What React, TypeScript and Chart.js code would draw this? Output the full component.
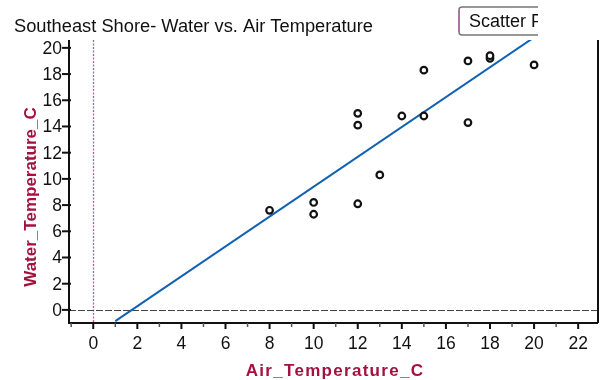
import React, { useEffect, useRef } from "react";
import Chart from "chart.js/auto";

const airTemp = [8, 10, 10, 12, 12, 12, 13, 14, 15, 15, 17, 17, 18, 18, 20];
const waterTemp = [7.6, 8.2, 7.3, 15.0, 14.1, 8.1, 10.3, 14.8, 18.3, 14.8, 19.0, 14.3, 19.2, 19.4, 18.7];
const fitX = [1, 20.5];
const fitY = [-0.86, 21.37];
const xTicks = [-1, 0, 1, 2, 3, 4, 5, 6, 7, 8, 9, 10, 11, 12, 13, 14, 15, 16, 17, 18, 19, 20, 21, 22];
const yTicks = [0, 2, 4, 6, 8, 10, 12, 14, 16, 18, 20];

const TITLE = "Southeast Shore- Water vs. Air Temperature";
const X_TITLE = "Air_Temperature_C";
const Y_TITLE = "Water_Temperature_C";
const BUTTON = "Scatter P";
const CRIMSON = "#a3123e";
const FONT = "'Liberation Sans', Arial, sans-serif";

const decorPlugin = {
  id: "decor",
  beforeDatasetsDraw(chart: any) {
    const { ctx, chartArea: a, scales } = chart;
    const x0 = scales.x.getPixelForValue(0);
    const y0 = scales.y.getPixelForValue(0);
    ctx.save();
    ctx.lineWidth = 1.3;
    ctx.strokeStyle = "#b35f9c";
    ctx.setLineDash([2, 1.5]);
    ctx.beginPath();
    ctx.moveTo(Math.round(x0) + 0.5, a.top);
    ctx.lineTo(Math.round(x0) + 0.5, a.bottom);
    ctx.stroke();
    ctx.strokeStyle = "#444";
    ctx.lineWidth = 1.2;
    ctx.setLineDash([7, 2]);
    ctx.beginPath();
    ctx.moveTo(a.left, Math.round(y0) + 0.5);
    ctx.lineTo(a.right, Math.round(y0) + 0.5);
    ctx.stroke();
    ctx.restore();
  },
  afterDraw(chart: any) {
    const { ctx, chartArea: a, scales } = chart;
    ctx.save();
    ctx.setLineDash([]);
    // axes
    ctx.strokeStyle = "#111";
    ctx.lineWidth = 2;
    ctx.beginPath();
    ctx.moveTo(a.left, a.top);
    ctx.lineTo(a.left, a.bottom);
    ctx.lineTo(a.right, a.bottom);
    ctx.moveTo(a.right, a.top);
    ctx.lineTo(a.right, a.bottom);
    ctx.stroke();

    // x ticks
    ctx.fillStyle = "#111";
    ctx.font = `17.5px ${FONT}`;
    ctx.textAlign = "center";
    ctx.textBaseline = "alphabetic";
    xTicks.forEach((v) => {
      const px = scales.x.getPixelForValue(v);
      const major = v % 2 === 0;
      ctx.lineWidth = major ? 2 : 1.5;
      ctx.strokeStyle = major ? "#111" : "#555";
      ctx.beginPath();
      ctx.moveTo(px, a.bottom);
      ctx.lineTo(px, a.bottom + (major ? 6 : 4));
      ctx.stroke();
      if (major && v >= 0) ctx.fillText(String(v), px, a.bottom + 26);
    });

    // y ticks
    ctx.strokeStyle = "#111";
    ctx.textAlign = "right";
    ctx.textBaseline = "middle";
    yTicks.forEach((v) => {
      const py = scales.y.getPixelForValue(v);
      ctx.lineWidth = 2;
      ctx.beginPath();
      ctx.moveTo(a.left - 7, py);
      ctx.lineTo(a.left + 2, py);
      ctx.stroke();
      ctx.fillText(String(v), a.left - 7, py + 1);
    });

    // title
    ctx.textAlign = "left";
    ctx.textBaseline = "alphabetic";
    ctx.font = `18.3px ${FONT}`;
    ctx.fillText(TITLE, 14, 32);

    // axis titles
    ctx.fillStyle = CRIMSON;
    ctx.font = `bold 17px ${FONT}`;
    ctx.textAlign = "center";
    (ctx as any).letterSpacing = "1.3px";
    ctx.fillText(X_TITLE, 335, 376);
    (ctx as any).letterSpacing = "0px";
    ctx.save();
    ctx.translate(36, 197);
    ctx.rotate(-Math.PI / 2);
    ctx.fillText(Y_TITLE, 0, 0);
    ctx.restore();

    // button
    ctx.save();
    ctx.beginPath();
    ctx.rect(0, 0, 538, 380);
    ctx.clip();
    ctx.fillStyle = "#fff";
    ctx.strokeStyle = "#777";
    ctx.lineWidth = 1.5;
    const bx = 459, by = 7, bw = 100, bh = 28, r = 3;
    ctx.beginPath();
    ctx.moveTo(bx + r, by);
    ctx.lineTo(bx + bw, by);
    ctx.lineTo(bx + bw, by + bh);
    ctx.lineTo(bx + r, by + bh);
    ctx.arcTo(bx, by + bh, bx, by + bh - r, r);
    ctx.lineTo(bx, by + r);
    ctx.arcTo(bx, by, bx + r, by, r);
    ctx.closePath();
    ctx.fill();
    ctx.stroke();
    ctx.strokeStyle = "#b06aa0";
    ctx.beginPath();
    ctx.moveTo(bx, by + r);
    ctx.lineTo(bx, by + bh - r);
    ctx.stroke();
    ctx.fillStyle = "#111";
    ctx.font = `18px ${FONT}`;
    ctx.textAlign = "left";
    ctx.fillText(BUTTON, 469, 27);
    ctx.restore();
    ctx.restore();
  },
};

export default function App() {
  const ref = useRef<HTMLCanvasElement>(null);
  useEffect(() => {
    if (!ref.current) return;
    const chart = new Chart(ref.current, {
      type: "scatter",
      data: {
        datasets: [
          {
            type: "line",
            data: fitX.map((x, i) => ({ x, y: fitY[i] })),
            borderColor: "#1262b3",
            borderWidth: 2,
            pointRadius: 0,
            fill: false,
            order: 2,
          },
          {
            type: "scatter",
            data: airTemp.map((x, i) => ({ x, y: waterTemp[i] })),
            pointRadius: 3.3,
            pointBorderWidth: 2.2,
            borderColor: "#111",
            backgroundColor: "#fff",
            order: 1,
          },
        ],
      },
      options: {
        responsive: false,
        animation: false,
        layout: { padding: { left: 69, right: 7, top: 40, bottom: 57 } },
        plugins: { legend: { display: false }, tooltip: { enabled: false } },
        scales: {
          x: { type: "linear", min: -1.1, max: 22.9, display: false },
          y: { type: "linear", min: -1.0, max: 20.6, display: false },
        },
      },
      plugins: [decorPlugin],
    });
    return () => chart.destroy();
  }, []);
  return (
    <div style={{ position: "absolute", left: 0, top: 0, width: 605, height: 380, background: "#fff" }}>
      <canvas ref={ref} width={605} height={380} style={{ width: 605, height: 380 }} />
    </div>
  );
}
